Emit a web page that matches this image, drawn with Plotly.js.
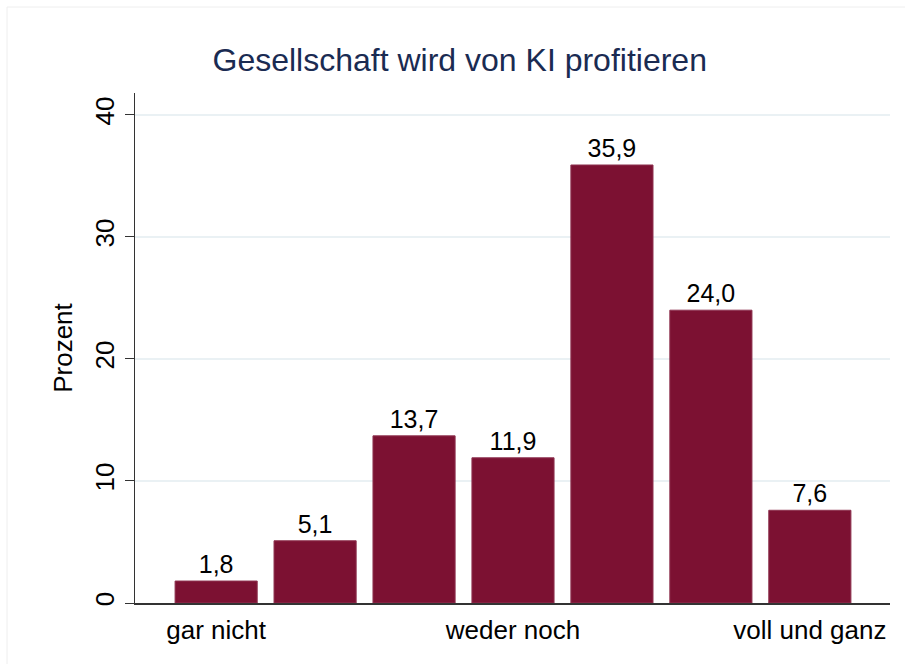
<!DOCTYPE html>
<html>
<head>
<meta charset="utf-8">
<script src="https://cdn.plot.ly/plotly-3.0.1.min.js"></script>
<style>html,body{margin:0;padding:0;background:#fff;}#chart{width:905px;height:664px;}</style>
</head>
<body>
<div id="chart"></div>
<script>
const positions = [1, 2, 3, 4, 5, 6, 7];
const values = [1.8, 5.1, 13.7, 11.9, 35.9, 24.0, 7.6];
const valueLabels = ["1,8", "5,1", "13,7", "11,9", "35,9", "24,0", "7,6"];
const xTickVals = [1, 4, 7];
const xTickText = ["gar nicht", "weder noch", "voll und ganz"];
const yTickVals = [0, 10, 20, 30, 40];

const font = "Liberation Sans, Arial, sans-serif";

const trace = {
  type: "bar",
  x: positions,
  y: values,
  width: 0.83,
  text: valueLabels,
  textposition: "outside",
  cliponaxis: false,
  textfont: {family: font, size: 25, color: "#000"},
  marker: {color: "#7C1132", line: {color: "#8E3350", width: 1}},
  hoverinfo: "none"
};

const layout = {
  width: 905, height: 664,
  margin: {l: 135, r: 15, t: 93, b: 61},
  paper_bgcolor: "#fff", plot_bgcolor: "#fff",
  showlegend: false,
  title: {text: "Gesellschaft wird von KI profitieren", font: {family: font, size: 32, color: "#1A2B52"},
          x: 0.508, xref: "container", xanchor: "center", y: 0.91, yref: "container", yanchor: "middle"},
  xaxis: {range: [0.18, 7.81], tickvals: xTickVals, ticktext: xTickText, showgrid: false, zeroline: false,
          showline: true, linecolor: "#333", linewidth: 1.5, ticks: "", ticklabelstandoff: 3,
          tickfont: {family: font, size: 26, color: "#000"}},
  yaxis: {range: [0, 41.8], tickvals: yTickVals, tickangle: -90, showgrid: true, gridcolor: "#EAF1F4", gridwidth: 1.5,
          zeroline: false, showline: true, linecolor: "#333", linewidth: 1.5, ticks: "outside", ticklen: 9, tickcolor: "#333",
          ticklabelstandoff: 0,
          tickfont: {family: font, size: 26, color: "#000"},
          title: {text: "Prozent", font: {family: font, size: 26, color: "#000"}, standoff: 10}},
  shapes: [{type: "rect", xref: "paper", yref: "paper", x0: -0.1695, x1: 1.03, y0: -0.14, y1: 1.1686,
            line: {color: "#EEEEEE", width: 1}, fillcolor: "rgba(0,0,0,0)", layer: "below"}],
  bargap: 0
};

Plotly.newPlot("chart", [trace], layout, {staticPlot: true, displayModeBar: false});
</script>
</body>
</html>
